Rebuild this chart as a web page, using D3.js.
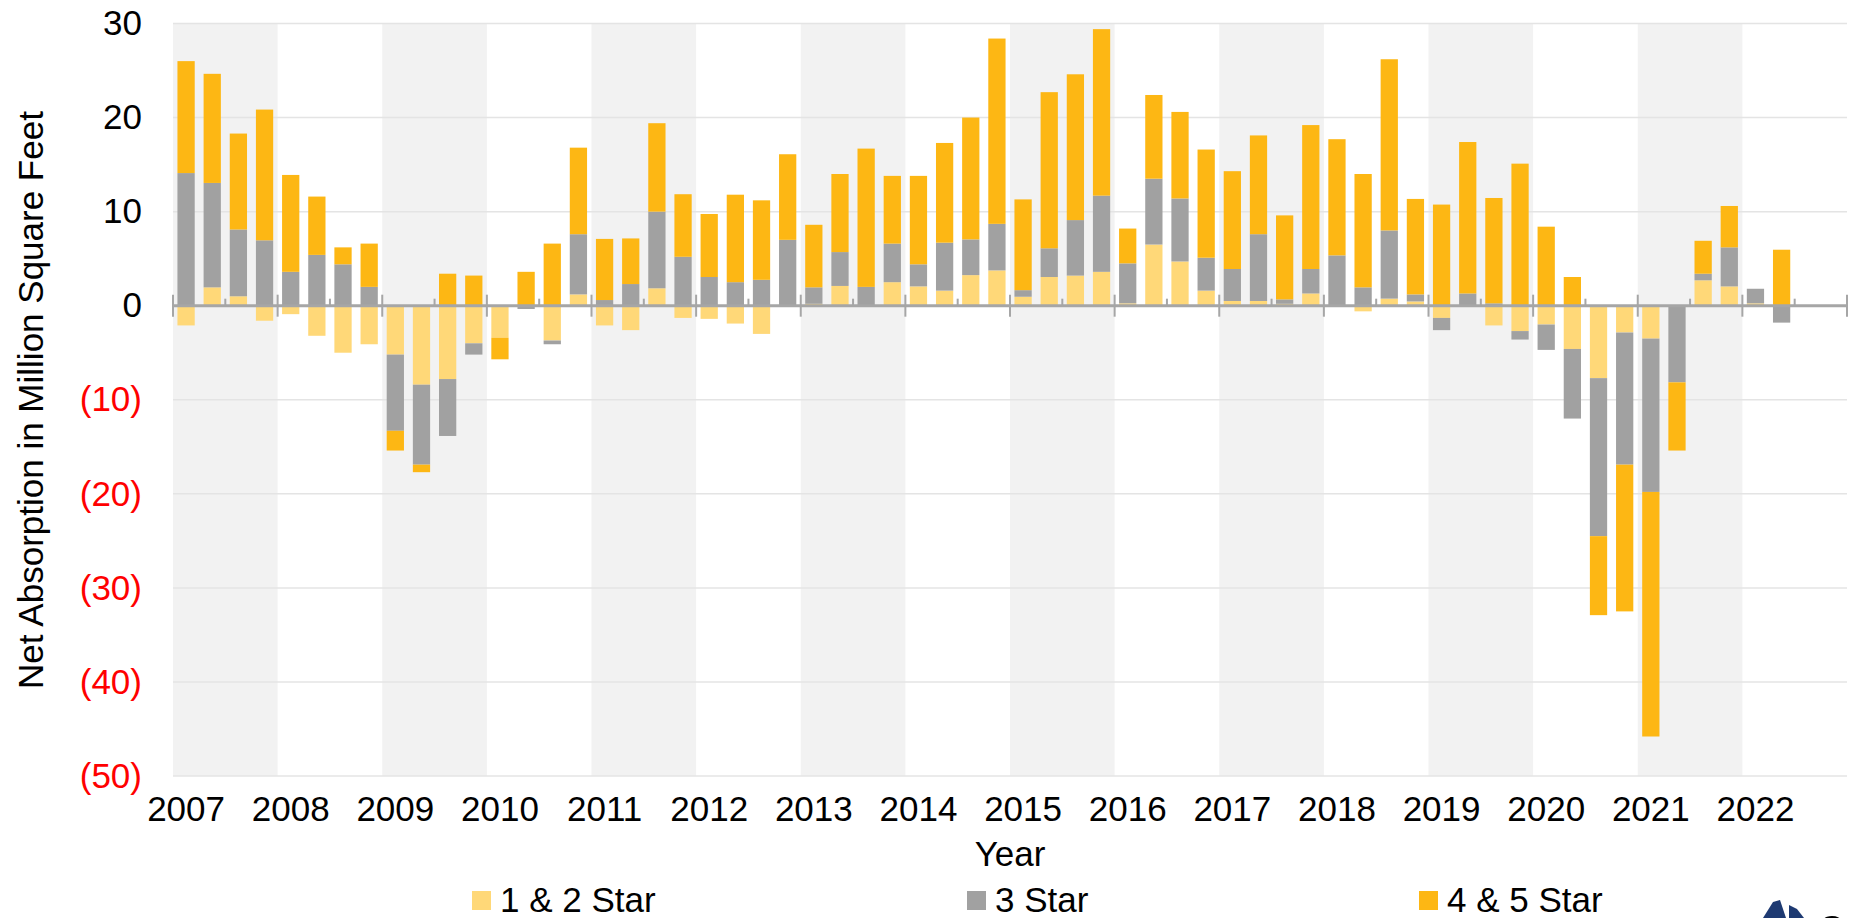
<!DOCTYPE html>
<html>
<head>
<meta charset="utf-8">
<script src="https://cdn.jsdelivr.net/npm/d3@7"></script>
<style>
  body { margin: 0; background: #fff; }
  svg { display: block; font-family: "Liberation Sans", Arial, sans-serif; }
</style>
</head>
<body>
<svg width="1858" height="918"></svg>
<script>
// quarters 2007Q1 .. 2022Q2 (values in million sq ft)
var years = d3.range(2007, 2023);
var quarters = [];
years.forEach(function(yr) {
    [1, 2, 3, 4].forEach(function(q) { quarters.push(yr + "Q" + q); });
});

var star12 = [
    -2.1, 1.95, 1.0, -1.6,   -0.9, -3.2, -5.0, -4.1,
    -5.2, -8.4, -7.8, -4.0,  -3.4, 0, -3.7, 1.2,
    -2.1, -2.6, 1.85, -1.3,  -1.4, -1.9, -3.0, 0,
    0.2, 2.1, 0, 2.5,        2.05, 1.6, 3.25, 3.75,
    0.95, 3.05, 3.2, 3.6,    0.25, 6.5, 4.7, 1.6,
    0.5, 0.5, 0.2, 1.3,      0, -0.6, 0.75, 0.45,
    -1.3, 0, -2.1, -2.7,     -2.0, -4.6, -7.7, -2.85,
    -3.5, 0, 2.7, 2.05,      0.25, 0
];
var star3 = [
    14.1, 11.1, 7.1, 6.95,   3.6, 5.4, 4.4, 2.0,
    -8.1, -8.5, -6.05, -1.2, 0, -0.35, -0.4, 6.4,
    0.6, 2.3, 8.15, 5.2,     3.05, 2.5, 2.75, 7.0,
    1.75, 3.6, 2.0, 4.1,     2.35, 5.1, 3.8, 4.95,
    0.7, 3.05, 5.9, 8.1,     4.25, 7.0, 6.7, 3.5,
    3.4, 7.1, 0.47, 2.6,     5.35, 1.95, 7.25, 0.75,
    -1.3, 1.3, 0.25, -0.9,   -2.7, -7.4, -16.8, -14.05,
    -16.3, -8.15, 0.7, 4.15, 1.55, -1.8
];
var star45 = [
    11.9, 11.6, 10.2, 13.9,  10.3, 6.2, 1.8, 4.6,
    -2.1, -0.8, 3.4, 3.2,    -2.3, 3.6, 6.6, 9.2,
    6.5, 4.85, 9.4, 6.65,    6.7, 9.3, 8.45, 9.1,
    6.65, 8.3, 14.7, 7.2,    9.4, 10.6, 12.95, 19.7,
    9.65, 16.6, 15.5, 17.7,  3.7, 8.9, 9.2, 11.5,
    10.4, 10.5, 8.93, 15.3,  12.35, 12.05, 18.2, 10.15,
    10.75, 16.1, 11.2, 15.1, 8.4, 3.05, -8.4, -15.6,
    -26.0, -7.25, 3.5, 4.4,  0, 5.95
];
var seriesNames = ["1 & 2 Star", "3 Star", "4 & 5 Star"];
var yTicks = [30, 20, 10, 0, -10, -20, -30, -40, -50];

function createVisualization() {
    var svg = d3.select("svg");
    var left = 173, right = 1847, top = 23.5, bottom = 776;

    var colors = d3.scaleOrdinal()
        .domain(seriesNames)
        .range(["#FFD878", "#A1A1A1", "#FDB714"]);

    var x = d3.scaleBand()
        .domain(quarters)
        .range([left, right])
        .paddingInner(0.34)
        .paddingOuter(0.17);

    var xYear = d3.scaleLinear()
        .domain([2007, 2023])
        .range([left, right]);

    var y = d3.scaleLinear()
        .domain([-50, 30])
        .range([bottom, top]);

    var data = star12.map(function(v, i) {
        var row = { quarter: quarters[i] };
        row[seriesNames[0]] = v;
        row[seriesNames[1]] = star3[i];
        row[seriesNames[2]] = star45[i];
        return row;
    });

    var stacked = d3.stack()
        .keys(seriesNames)
        .offset(d3.stackOffsetDiverging)(data);

    // alternating year bands
    svg.append("g")
        .selectAll("rect")
        .data(years.filter(function(yr) { return (yr - 2007) % 2 === 0; }))
        .enter().append("rect")
        .attr("x", function(d) { return xYear(d); })
        .attr("y", y(30))
        .attr("width", function(d) { return xYear(d + 1) - xYear(d); })
        .attr("height", y(-50) - y(30))
        .attr("fill", "#F2F2F2");

    // gridlines
    svg.append("g")
        .selectAll("line")
        .data(yTicks.filter(function(d) { return d !== 0; }))
        .enter().append("line")
        .attr("x1", left)
        .attr("x2", right)
        .attr("y1", function(d) { return y(d); })
        .attr("y2", function(d) { return y(d); })
        .attr("stroke", "#E4E4E4")
        .attr("stroke-width", 1.5);

    // bars
    svg.append("g")
        .selectAll("g")
        .data(stacked)
        .enter().append("g")
        .attr("fill", function(d) { return colors(d.key); })
        .selectAll("rect")
        .data(function(d) { return d; })
        .enter().append("rect")
        .attr("x", function(d) { return x(d.data.quarter); })
        .attr("y", function(d) { return y(Math.max(d[0], d[1])); })
        .attr("width", x.bandwidth())
        .attr("height", function(d) { return Math.abs(y(d[0]) - y(d[1])); });

    // zero axis line with year / half-year ticks
    var axis = svg.append("g").attr("stroke", "#A6A6A6");
    axis.append("line")
        .attr("x1", left)
        .attr("x2", right)
        .attr("y1", y(0))
        .attr("y2", y(0))
        .attr("stroke-width", 3);
    axis.selectAll(".major")
        .data(d3.range(2007, 2024))
        .enter().append("line")
        .attr("class", "major")
        .attr("x1", function(d) { return xYear(d); })
        .attr("x2", function(d) { return xYear(d); })
        .attr("y1", y(0) - 11)
        .attr("y2", y(0) + 11)
        .attr("stroke-width", 2);
    axis.selectAll(".minor")
        .data(d3.range(2007.5, 2023, 1))
        .enter().append("line")
        .attr("class", "minor")
        .attr("x1", function(d) { return xYear(d); })
        .attr("x2", function(d) { return xYear(d); })
        .attr("y1", y(0) - 7)
        .attr("y2", y(0))
        .attr("stroke-width", 2);

    // y axis labels
    var yAxis = svg.append("g")
        .attr("transform", "translate(" + left + ",0)")
        .call(d3.axisLeft(y)
            .tickValues(yTicks)
            .tickSize(0)
            .tickPadding(31)
            .tickFormat(function(d) { return d < 0 ? "(" + (-d) + ")" : d; }));
    yAxis.select(".domain").remove();
    yAxis.selectAll("text")
        .attr("font-size", 35)
        .attr("font-family", "Liberation Sans, Arial, sans-serif")
        .attr("fill", function(d) { return d < 0 ? "#FF0000" : "#000"; });

    // x axis labels on first quarter of each year
    var xAxis = svg.append("g")
        .attr("transform", "translate(0," + bottom + ")")
        .call(d3.axisBottom(x)
            .tickValues(quarters.filter(function(q) { return /Q1$/.test(q); }))
            .tickSize(0)
            .tickPadding(20)
            .tickFormat(function(d) { return d.slice(0, 4); }));
    xAxis.select(".domain").remove();
    xAxis.selectAll("text")
        .attr("font-size", 35)
        .attr("font-family", "Liberation Sans, Arial, sans-serif")
        .attr("fill", "#000");

    // axis titles
    svg.append("text")
        .attr("x", (left + right) / 2)
        .attr("y", 866)
        .attr("text-anchor", "middle")
        .attr("font-size", 35)
        .text("Year");

    svg.append("text")
        .attr("transform", "translate(43,400) rotate(-90)")
        .attr("text-anchor", "middle")
        .attr("font-size", 35)
        .text("Net Absorption in Million Square Feet");

    // legend
    var legendX = [472, 967, 1419];
    var legend = svg.append("g")
        .selectAll("g")
        .data(seriesNames)
        .enter().append("g")
        .attr("transform", function(d, i) { return "translate(" + legendX[i] + ",891)"; });

    legend.append("rect")
        .attr("width", 19)
        .attr("height", 19)
        .attr("fill", colors);

    legend.append("text")
        .attr("x", 28)
        .attr("y", 21)
        .attr("font-size", 35)
        .text(function(d) { return d; });

    // logo fragment, cut off at the bottom edge
    var logo = svg.append("g").attr("fill", "#1E3A72");
    logo.append("path").attr("d", "M1763,918 L1773,902 L1780,900 L1786,918 Z");
    logo.append("path").attr("d", "M1789,905 L1797,909 L1804,918 L1789,918 Z");
    svg.append("path")
        .attr("d", "M1841,922 A12,12 0 0 0 1820,930")
        .attr("fill", "none")
        .attr("stroke", "#000")
        .attr("stroke-width", 4);
}

createVisualization();
</script>
</body>
</html>
